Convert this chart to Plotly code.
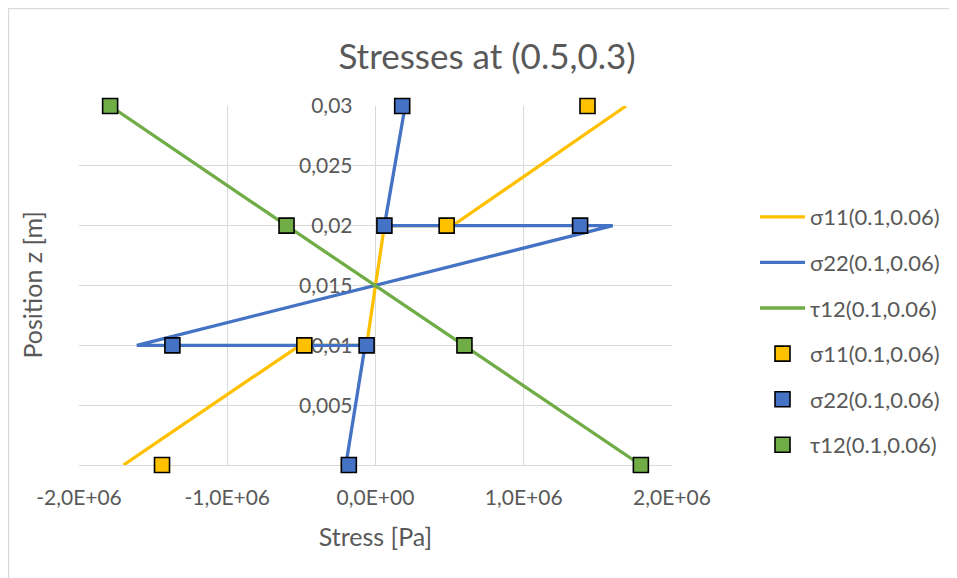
import plotly.graph_objects as go

# ---- data ----
z_line = [0, 0.01, 0.01, 0.02, 0.02, 0.03]
s11_line = [-1.70e6, -0.51e6, -0.06e6, 0.06e6, 0.52e6, 1.69e6]
s22_line = [-0.20e6, -0.07e6, -1.61e6, 1.60e6, 0.06e6, 0.20e6]
t12_line = [1.79e6, 0.59e6, 0.59e6, -0.60e6, -0.60e6, -1.79e6]

z_pts4 = [0, 0.01, 0.02, 0.03]
s11_pts = [-1.44e6, -0.48e6, 0.48e6, 1.43e6]
z_pts6 = [0, 0.01, 0.01, 0.02, 0.02, 0.03]
s22_pts = [-0.18e6, -0.06e6, -1.37e6, 1.38e6, 0.06e6, 0.18e6]
t12_pts = [1.79e6, 0.60e6, -0.60e6, -1.79e6]

x_tickvals = [-2e6, -1e6, 0, 1e6, 2e6]
x_ticktext = ["-2,0E+06", "-1,0E+06", "0,0E+00", "1,0E+06", "2,0E+06"]
y_tickvals = [0, 0.005, 0.01, 0.015, 0.02, 0.025, 0.03]
y_ticktext = ["0", "0,005", "0,01", "0,015", "0,02", "0,025", "0,03"]

YELLOW = "#FFC000"
BLUE = "#4472C4"
GREEN = "#70AD47"
TXT = "#595959"
GRID = "#D9D9D9"
FONT = "Lato, Liberation Sans, sans-serif"

# figure is offset by the page's 8px body margin
W, H = 949, 570
ML, MT, MR, MB = 71, 98, 285, 113
PW, PH = W - ML - MR, H - MT - MB

fig = go.Figure()
lines = [("σ11(0.1,0.06)", s11_line, YELLOW),
         ("σ22(0.1,0.06)", s22_line, BLUE),
         ("τ12(0.1,0.06)", t12_line, GREEN)]
for i, (name, xs, col) in enumerate(lines):
    fig.add_trace(go.Scatter(x=xs, y=z_line, mode="lines", name=name,
                             legendgroup=f"g{i}", cliponaxis=False,
                             line=dict(color=col, width=3.3)))
pts = [("σ11(0.1,0.06)", s11_pts, z_pts4, YELLOW),
       ("σ22(0.1,0.06)", s22_pts, z_pts6, BLUE),
       ("τ12(0.1,0.06)", t12_pts, z_pts4, GREEN)]
for i, (name, xs, zs, col) in enumerate(pts):
    fig.add_trace(go.Scatter(x=xs, y=zs, mode="markers", name=name,
                             legendgroup=f"m{i}", cliponaxis=False,
                             marker=dict(symbol="square", size=15, color=col,
                                         line=dict(color="black", width=1.6))))

fig.update_layout(
    width=W, height=H,
    margin=dict(l=ML, r=MR, t=MT, b=MB, autoexpand=False),
    paper_bgcolor="white", plot_bgcolor="white",
    font=dict(family=FONT, color=TXT, size=20),
    title=dict(text="Stresses at (0.5,0.3)", x=479 / W, xanchor="center",
               y=1 - 49 / H, yanchor="middle",
               font=dict(size=35, color=TXT, family=FONT)),
    showlegend=True,
    legend=dict(x=(747 - ML) / PW, y=1 - 90 / PH, xanchor="left", yanchor="top",
                tracegroupgap=14, itemwidth=45,
                font=dict(size=22, color=TXT),
                bgcolor="rgba(0,0,0,0)"),
    xaxis=dict(range=[-2e6, 2e6], tickvals=x_tickvals, ticktext=x_ticktext,
               showgrid=True, gridcolor=GRID, gridwidth=1.3,
               zeroline=False, showline=True, linecolor=GRID, linewidth=1.3,
               ticks="", ticklabelstandoff=14, automargin=False,
               tickfont=dict(size=21),
               title=dict(text="Stress [Pa]", standoff=20,
                          font=dict(size=25, color=TXT)),
               layer="below traces"),
    yaxis=dict(range=[0, 0.03], tickvals=y_tickvals, ticktext=y_ticktext,
               showgrid=True, gridcolor=GRID, gridwidth=1.3,
               zeroline=False, showline=False, automargin=False,
               anchor="free", position=0.5, ticks="",
               ticklabelstandoff=23, tickfont=dict(size=21),
               layer="below traces"),
    shapes=[dict(type="rect", xref="paper", yref="paper",
                 x0=-ML / PW + 0.001, x1=1.6, y0=-0.5, y1=1 + MT / PH - 0.002,
                 line=dict(color=GRID, width=1.2), layer="below")],
    annotations=[dict(text="Position z [m]", xref="paper", yref="paper",
                      x=(23 - ML) / PW, y=0.5, textangle=-90,
                      showarrow=False, font=dict(size=25, color=TXT),
                      xanchor="center", yanchor="middle")],
)

fig.write_html("out.html")
